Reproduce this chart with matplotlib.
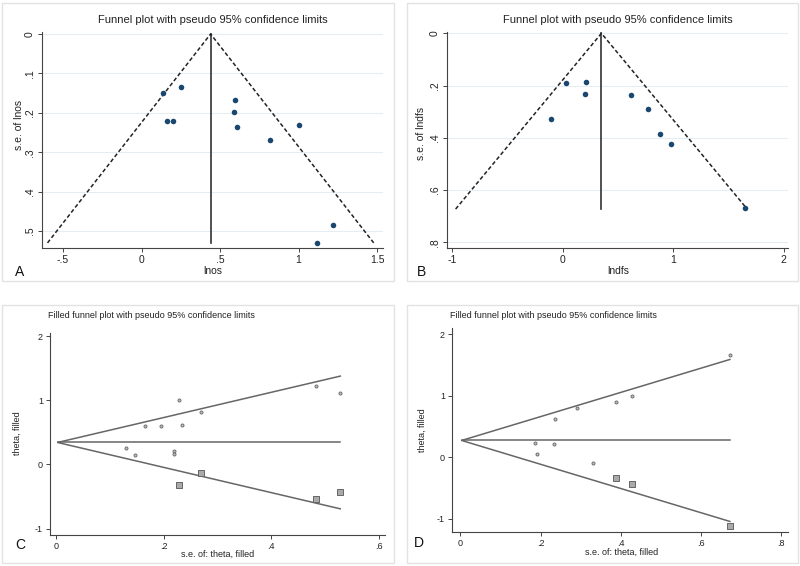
import matplotlib
matplotlib.use('Agg')
import matplotlib.pyplot as plt
import numpy as np
from matplotlib.patches import Rectangle

plt.rcParams['font.family'] = ['Liberation Sans', 'DejaVu Sans']

# panel A - lnos
lnos = [0.136, 0.253, 0.163, 0.202, 0.597, 0.590, 0.609, 0.820, 1.006, 1.219, 1.119]
se_lnos = [0.149, 0.134, 0.221, 0.221, 0.167, 0.198, 0.237, 0.270, 0.231, 0.485, 0.530]
pooled_lnos = 0.44
semax_lnos = 0.53

# panel B - lndfs
lndfs = [0.033, 0.217, 0.199, -0.102, 0.617, 0.777, 0.880, 0.982, 1.654]
se_lndfs = [0.191, 0.186, 0.233, 0.329, 0.237, 0.290, 0.387, 0.425, 0.670]
pooled_lndfs = 0.352
semax_lndfs = 0.673

# panel C - filled funnel (lnos)
se_c = [0.131, 0.147, 0.166, 0.196, 0.229, 0.235, 0.269, 0.219, 0.220, 0.483, 0.528]
theta_c = [0.26, 0.145, 0.597, 0.597, 1.003, 0.613, 0.821, 0.215, 0.17, 1.226, 1.117]
se_c_fill = [0.229, 0.269, 0.483, 0.528]
theta_c_fill = [-0.322, -0.14, -0.54, -0.43]
pooled_c = 0.343
semax_c = 0.528

# panel D - filled funnel (lndfs)
se_d = [0.185, 0.191, 0.233, 0.236, 0.290, 0.330, 0.388, 0.427, 0.672]
theta_d = [0.227, 0.043, 0.206, 0.628, 0.796, -0.092, 0.893, 0.996, 1.662]
se_d_fill = [0.389, 0.427, 0.672]
theta_d_fill = [-0.341, -0.444, -1.121]
pooled_d = 0.271
semax_d = 0.672

W, H = 800, 566
fig = plt.figure(figsize=(8, 5.66), dpi=100)
fig.patch.set_facecolor('white')


def px_axes(l, t, r, b):
    return fig.add_axes([l / W, (H - b) / H, (r - l) / W, (b - t) / H])


def ftext(x, y, s, **kw):
    fig.text(x / W, 1 - y / H, s, **kw)


def box(l, t, r, b):
    fig.patches.append(Rectangle((l / W, 1 - b / H), (r - l) / W, (b - t) / H,
                                 transform=fig.transFigure, fill=False,
                                 ec='#e2e2e2', lw=1.0))


def style(ax, fs):
    for s in ['top', 'right']:
        ax.spines[s].set_visible(False)
    for s in ['left', 'bottom']:
        ax.spines[s].set_color('#444444')
        ax.spines[s].set_linewidth(0.8)
    ax.tick_params(direction='out', length=3, width=0.7, colors='#444444',
                   labelsize=fs, labelcolor='#222222', pad=2)


def fmt(v):
    s = ('%g' % v)
    return s.replace('0.', '.') if abs(v) < 1 and v != 0 else s


def funnel(ax, x, se, pooled, semax, xlim, ylim, xt, yt):
    ax.set_xlim(*xlim)
    ax.set_ylim(*ylim)
    ax.set_yticks(yt)
    ax.set_yticklabels([fmt(v) for v in yt], rotation=90, va='center')
    ax.set_xticks(xt)
    ax.set_xticklabels([fmt(v) for v in xt])
    for v in yt:
        ax.axhline(v, color='#e6edf2', lw=0.8, zorder=0)
    ax.plot([pooled, pooled], [0, semax], color='#333333', lw=1.2)
    ax.plot([pooled - 1.96 * semax, pooled, pooled + 1.96 * semax],
            [semax, 0, semax], color='#222222', lw=1.1, ls=(0, (2.6, 1.6)))
    ax.scatter(x, se, s=16, color='#1a476f', zorder=3, lw=0)
    style(ax, 7.5)


def filled(ax, se, th, se_f, th_f, pooled, semax, xlim, ylim, xt, yt):
    ax.set_xlim(*xlim)
    ax.set_ylim(*ylim)
    ax.set_xticks(xt)
    ax.set_xticklabels([fmt(v) for v in xt])
    ax.set_yticks(yt)
    ax.set_yticklabels([fmt(v) for v in yt])
    ax.plot([0.003, semax], [pooled, pooled], color='#666666', lw=1.1)
    ax.plot([semax, 0.003, semax],
            [pooled + 1.96 * semax, pooled, pooled - 1.96 * semax],
            color='#666666', lw=1.1)
    ax.scatter(se, th, s=5, facecolor='#bbbbbb', edgecolor='#666666',
               lw=0.6, zorder=3)
    ax.scatter(se_f, th_f, s=22, marker='s', facecolor='#aaaaaa',
               edgecolor='#666666', lw=0.7, zorder=3)
    style(ax, 6.5)


# panel frames
box(2, 3, 394, 281)
box(407, 3, 798, 281)
box(2, 305, 394, 563)
box(407, 305, 798, 563)

# A
axA = px_axes(42, 32, 383, 248)
funnel(axA, lnos, se_lnos, pooled_lnos, semax_lnos, (-0.634, 1.538),
       (0.543, -0.005), [-0.5, 0, 0.5, 1, 1.5], [0, 0.1, 0.2, 0.3, 0.4, 0.5])
ftext(213, 20, 'Funnel plot with pseudo 95% confidence limits', ha='center',
      va='center', fontsize=8, color='#222222')
ftext(19, 125, 's.e. of lnos', rotation=90, ha='center', va='center',
      fontsize=7.5, color='#222222')
ftext(213, 271, 'lnos', ha='center', va='center', fontsize=7.5, color='#222222')
ftext(15, 272, 'A', ha='left', va='center', fontsize=10, color='#111111')

# B
axB = px_axes(447, 32, 788, 248)
funnel(axB, lndfs, se_lndfs, pooled_lndfs, semax_lndfs, (-1.045, 2.04),
       (0.822, -0.005), [-1, 0, 1, 2], [0, 0.2, 0.4, 0.6, 0.8])
ftext(618, 20, 'Funnel plot with pseudo 95% confidence limits', ha='center',
      va='center', fontsize=8, color='#222222')
ftext(421, 133, 's.e. of lndfs', rotation=90, ha='center', va='center',
      fontsize=7.5, color='#222222')
ftext(618, 271, 'lndfs', ha='center', va='center', fontsize=7.5, color='#222222')
ftext(417, 272, 'B', ha='left', va='center', fontsize=10, color='#111111')

# C
axC = px_axes(50, 333, 385, 535)
filled(axC, se_c, theta_c, se_c_fill, theta_c_fill, pooled_c, semax_c,
       (-0.011, 0.611), (-1.10, 2.05), [0, 0.2, 0.4, 0.6], [-1, 0, 1, 2])
ftext(48, 316, 'Filled funnel plot with pseudo 95% confidence limits',
      ha='left', va='center', fontsize=6.5, color='#222222')
ftext(17, 433, 'theta, filled', rotation=90, ha='center', va='center',
      fontsize=6.5, color='#222222')
ftext(218, 554, 's.e. of: theta, filled', ha='center', va='center',
      fontsize=6.5, color='#222222')
ftext(15, 545, 'C', ha='left', va='center', fontsize=10, color='#111111')

# D
axD = px_axes(452, 328, 788, 532)
filled(axD, se_d, theta_d, se_d_fill, theta_d_fill, pooled_d, semax_d,
       (-0.021, 0.817), (-1.218, 2.1), [0, 0.2, 0.4, 0.6, 0.8], [-1, 0, 1, 2])
ftext(450, 316, 'Filled funnel plot with pseudo 95% confidence limits',
      ha='left', va='center', fontsize=6.5, color='#222222')
ftext(422, 430, 'theta, filled', rotation=90, ha='center', va='center',
      fontsize=6.5, color='#222222')
ftext(622, 552, 's.e. of: theta, filled', ha='center', va='center',
      fontsize=6.5, color='#222222')
ftext(414, 543, 'D', ha='left', va='center', fontsize=10, color='#111111')

fig.savefig('out.png', dpi=100)
